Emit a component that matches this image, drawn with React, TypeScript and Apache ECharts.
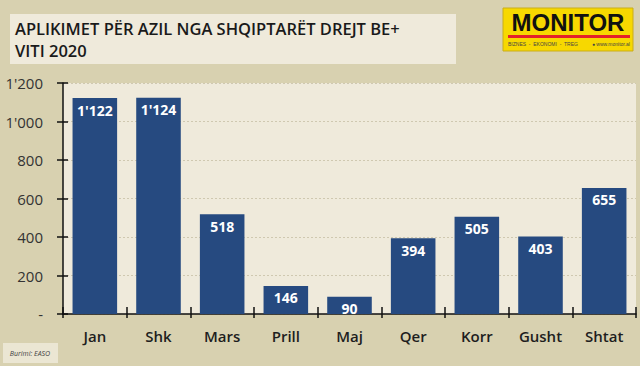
import React, { useEffect, useRef } from "react";
import * as echarts from "echarts";

const months = ["Jan", "Shk", "Mars", "Prill", "Maj", "Qer", "Korr", "Gusht", "Shtat"];
const applications = [1122, 1124, 518, 146, 90, 394, 505, 403, 655];
const yTicks = { min: 0, max: 1200, interval: 200 };
const titleLines = ["APLIKIMET PËR AZIL NGA SHQIPTARËT DREJT BE+", "VITI 2020"];
const sourceText = "Burimi: EASO";

const fmt = (v: number) => {
  if (v === 0) return "-";
  const s = String(Math.round(v));
  return s.replace(/\B(?=(\d{3})+(?!\d))/g, "'");
};

export default function App() {
  const ref = useRef<HTMLDivElement>(null);
  useEffect(() => {
    document.body.style.margin = "0";
    const chart = echarts.init(ref.current!, undefined, { renderer: "svg" });
    const tickStyle = { color: "#111", width: 1.5 };
    chart.setOption({
      animation: false,
      backgroundColor: "#d8d1b0",
      grid: {
        left: 63,
        right: 4,
        top: 83,
        bottom: 52,
        show: true,
        backgroundColor: "#efeadb",
        borderWidth: 0,
      },
      xAxis: [
        {
          type: "category",
          data: months,
          axisLine: { lineStyle: { color: "#111", width: 1.5 } },
          axisTick: { show: true, length: 4, lineStyle: tickStyle },
          axisLabel: {
            color: "#1e1e1e",
            fontFamily: "Open Sans",
            fontWeight: 600,
            fontSize: 15,
            margin: 14,
          },
        },
        {
          type: "category",
          data: months,
          position: "bottom",
          axisLine: { show: false },
          axisTick: { show: true, inside: true, length: 7, lineStyle: tickStyle },
          axisLabel: { show: false },
        },
      ],
      yAxis: [
        {
          type: "value",
          ...yTicks,
          axisLine: { show: true, lineStyle: { color: "#111", width: 1.5 } },
          axisTick: { show: true, length: 6, lineStyle: tickStyle },
          axisLabel: {
            color: "#333",
            fontFamily: "Open Sans",
            fontSize: 15,
            margin: 20,
            formatter: (v: number) => fmt(v),
          },
          splitLine: { lineStyle: { color: "#cfc8b0", type: [2, 2], width: 1 } },
        },
        {
          type: "value",
          ...yTicks,
          position: "left",
          axisLine: { show: false },
          axisTick: { show: true, inside: true, length: 5, lineStyle: tickStyle },
          axisLabel: { show: false },
          splitLine: { show: false },
        },
      ],
      series: [
        {
          type: "bar",
          data: applications,
          barCategoryGap: "30%",
          itemStyle: { color: "#264a80" },
          label: {
            show: true,
            position: "insideTop",
            distance: 5,
            color: "#fff",
            fontFamily: "Open Sans",
            fontWeight: 700,
            fontSize: 14,
            formatter: (p: any) => fmt(p.value),
          },
        },
      ],
      graphic: [
        {
          type: "rect",
          shape: { x: 10, y: 14, width: 446, height: 50 },
          style: { fill: "#efeadb" },
        },
        {
          type: "text",
          x: 15,
          y: 28,
          style: {
            text: titleLines[0],
            fill: "#1a1a1a",
            fontFamily: "Open Sans",
            fontWeight: 600,
            fontSize: 16.5,
            verticalAlign: "middle",
          },
        },
        {
          type: "text",
          x: 15,
          y: 50,
          style: {
            text: titleLines[1],
            fill: "#1a1a1a",
            fontFamily: "Open Sans",
            fontWeight: 600,
            fontSize: 16.5,
            verticalAlign: "middle",
          },
        },
        {
          type: "rect",
          shape: { x: 503, y: 8, width: 130, height: 43 },
          style: { fill: "#f7d800", stroke: "#c9ad1a", lineWidth: 1 },
        },
        {
          type: "text",
          x: 568,
          y: 22,
          style: {
            text: "MONITOR",
            fill: "#111",
            fontFamily: "Liberation Sans",
            fontWeight: 900,
            fontSize: 24,
            align: "center",
            verticalAlign: "middle",
          },
        },
        {
          type: "rect",
          shape: { x: 508, y: 35, width: 122, height: 3 },
          style: { fill: "#e4202a" },
        },
        {
          type: "text",
          x: 508,
          y: 44,
          style: {
            text: "BIZNES  -  EKONOMI  -  TREG",
            fill: "#444",
            fontFamily: "Liberation Sans",
            fontSize: 5,
            verticalAlign: "middle",
          },
        },
        {
          type: "text",
          x: 630,
          y: 44,
          style: {
            text: "● www.monitor.al",
            fill: "#444",
            fontFamily: "Liberation Sans",
            fontSize: 5,
            align: "right",
            verticalAlign: "middle",
          },
        },
        {
          type: "rect",
          shape: { x: 3, y: 343, width: 55, height: 20 },
          style: { fill: "#ebe6d3" },
        },
        {
          type: "text",
          x: 30,
          y: 353,
          style: {
            text: sourceText,
            fill: "#444",
            fontFamily: "Open Sans",
            fontStyle: "italic",
            fontSize: 7,
            align: "center",
            verticalAlign: "middle",
          },
        },
      ],
    });
    return () => chart.dispose();
  }, []);
  return <div ref={ref} style={{ width: 640, height: 366 }} />;
}
